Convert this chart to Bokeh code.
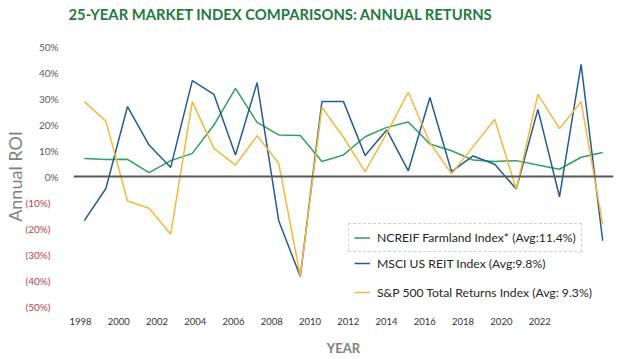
from bokeh.plotting import figure
from bokeh.models import (Range1d, LinearAxis, FixedTicker, Span, Legend, LegendItem,
                          Title, CustomJSTickFormatter)
from bokeh.embed import file_html
from bokeh.resources import INLINE

# ---- data (annual returns, %) ----
years = list(range(1998, 2023))
ncreif = [6.9, 6.5, 6.6, 1.5, 6.1, 8.9, 19.8, 33.9, 20.8, 16.0, 15.8, 5.8, 8.3,
          15.3, 18.9, 21.0, 12.5, 9.9, 6.3, 5.8, 6.1, 4.4, 2.8, 7.4, 9.2]
msci = [-17.0, -4.6, 26.9, 12.1, 3.5, 36.9, 31.6, 8.3, 36.1, -17.0, -38.5, 28.8, 28.8,
        8.1, 17.9, 2.2, 30.4, 1.9, 7.9, 4.7, -4.8, 25.8, -7.8, 43.1, -24.7]
sp500 = [28.8, 21.3, -9.4, -12.2, -22.2, 28.8, 10.8, 4.4, 15.7, 5.1, -38.3, 26.6, 15.1,
         1.9, 16.6, 32.4, 13.0, 1.0, 11.5, 22.0, -4.9, 31.6, 18.4, 28.8, -18.4]
x_tick_years = list(range(1998, 2023, 2))
y_ticks = list(range(-50, 51, 10))
series_labels = ["NCREIF Farmland Index* (Avg:11.4%)",
                 "MSCI US REIT Index (Avg:9.8%)",
                 "S&P 500 Total Returns Index (Avg: 9.3%)"]
title_text = "25-YEAR MARKET INDEX COMPARISONS: ANNUAL RETURNS"
x_title = "YEAR"
y_title = "Annual ROI"

FONT = "Lato"
GREEN = "#2ea35a"
BLUE = "#245c92"
ORANGE = "#f5b73e"

p = figure(width=626, height=359, output_backend="svg", toolbar_location=None,
           x_range=Range1d(1997.5, 2022.5), y_range=Range1d(-50, 50),
           x_axis_location=None,
           min_border_left=72, min_border_right=13, min_border_top=46, min_border_bottom=53)
p.outline_line_color = None
p.grid.visible = False
p.background_fill_color = "white"

# blank spacer panel between the frame and the title
p.add_layout(Title(text=" ", standoff=10, text_font=FONT, text_font_size="10px"), "above")

p.title = Title(text=title_text, align="left", offset=-5, standoff=0,
                text_font=FONT, text_font_size="14.8px", text_font_style="bold",
                text_color="#1e7b3e")

# label axis for years (placed as in the reference)
p.extra_x_ranges = {"lab": Range1d(1997.635, 2025.86)}
xaxis = LinearAxis(x_range_name="lab", ticker=FixedTicker(ticks=x_tick_years), axis_label=x_title)
xaxis.axis_line_color = None
xaxis.major_tick_line_color = None
xaxis.minor_tick_line_color = None
xaxis.major_label_standoff = 5
xaxis.major_label_text_font = FONT
xaxis.major_label_text_font_size = "9.5px"
xaxis.major_label_text_color = "#333333"
xaxis.axis_label_text_font = FONT
xaxis.axis_label_text_font_size = "13px"
xaxis.axis_label_text_font_style = "bold"
xaxis.axis_label_text_color = "#7f7f7f"
xaxis.axis_label_standoff = 12
p.add_layout(xaxis, "below")

# inner y axis: positive percentages (grey)
ya = p.yaxis[0]
ya.ticker = FixedTicker(ticks=y_ticks)
ya.formatter = CustomJSTickFormatter(code="return tick < 0 ? '' : tick + '%';")
ya.axis_line_color = None
ya.major_tick_line_color = None
ya.minor_tick_line_color = None
ya.major_label_standoff = 9
ya.major_label_text_font = FONT
ya.major_label_text_font_size = "10px"
ya.major_label_text_color = "#595959"

# outer y axis: negative percentages in parentheses (red), pulled into the same column
yneg = LinearAxis(ticker=FixedTicker(ticks=y_ticks),
                  formatter=CustomJSTickFormatter(code="return tick < 0 ? '(' + (-tick) + '%)' : '';"))
yneg.axis_line_color = None
yneg.major_tick_line_color = None
yneg.minor_tick_line_color = None
yneg.major_label_standoff = -21
yneg.major_label_text_font = FONT
yneg.major_label_text_font_size = "10px"
yneg.major_label_text_color = "#c0404a"
yneg.axis_label = y_title
yneg.axis_label_text_font = FONT
yneg.axis_label_text_font_size = "18px"
yneg.axis_label_text_font_style = "normal"
yneg.axis_label_text_color = "#7f7f7f"
yneg.axis_label_standoff = -3
p.add_layout(yneg, "left")

p.add_layout(Span(location=0, dimension="width", line_color="#595959", line_width=2))

r1 = p.line(years, ncreif, line_color=GREEN, line_width=1.5)
r2 = p.line(years, msci, line_color=BLUE, line_width=1.5)
r3 = p.line(years, sp500, line_color=ORANGE, line_width=1.5)

common = dict(margin=0, glyph_width=16, label_standoff=7, label_text_font=FONT,
              label_text_font_size="12.2px", label_text_color="#262626",
              background_fill_alpha=0)
legend1 = Legend(items=[LegendItem(label=series_labels[0], renderers=[r1])],
                 location=(275, 54), padding=5, glyph_height=17, label_height=17,
                 border_line_color="#7fb3b3", border_line_dash="1 2", border_line_width=1,
                 **common)
legend2 = Legend(items=[LegendItem(label=series_labels[1], renderers=[r2]),
                        LegendItem(label=series_labels[2], renderers=[r3])],
                 location=(281, 4), padding=0, spacing=9, glyph_height=20, label_height=20,
                 border_line_color=None, **common)
p.add_layout(legend1)
p.add_layout(legend2)

open("out.html", "w").write(file_html(p, INLINE))
